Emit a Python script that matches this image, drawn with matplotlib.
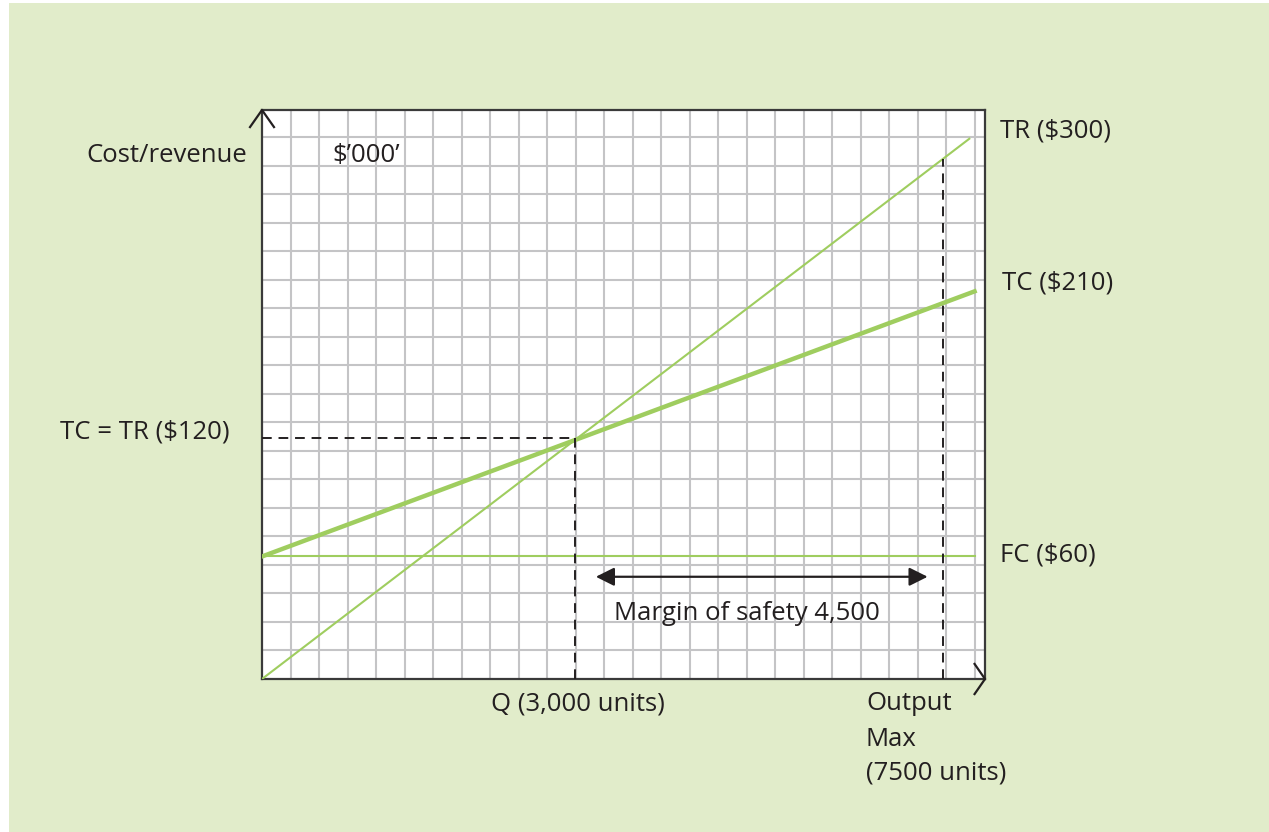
import numpy as np
import matplotlib
matplotlib.use("Agg")
import matplotlib.pyplot as plt
from matplotlib.patches import Rectangle

plt.rcParams['font.family'] = ['Open Sans', 'DejaVu Sans']

# values (x in units, y in $'000)
tr_x = [0, 6780]
tr_y = [0, 269]
tc_x = [0, 6830]
tc_y = [61, 193]
fc_x = [0, 6830]
fc_y = [61, 61]
q_units = 3000
q_cost = 120
max_units = 6530
max_cost = 259
margin_from, margin_to = 3200, 6380
margin_y = 50.9
x_max, y_max = 6930, 283.3
x_step, y_step = 273.2, 14.19

ink = "#231f20"
green = "#9fcd5f"
bg = "#e1ecca"
fs = 18.5

fig = plt.figure(figsize=(12.69, 8.32), dpi=100)
fig.patch.set_facecolor("white")
fig.patches.append(Rectangle((9/1269, 0), 1, 829/832, transform=fig.transFigure,
                             facecolor=bg, edgecolor="none", zorder=-10))

ax = fig.add_axes([262/1269, (832-679)/832, (985-262)/1269, (679-110)/832])
ax.set_facecolor("white")
ax.set_xlim(0, x_max)
ax.set_ylim(0, y_max)

# grid
for gx in np.arange(x_step, x_max, x_step):
    ax.axvline(gx, color="#c4c4c6", lw=1.5, zorder=1)
for gy in np.arange(y_step, y_max - 1, y_step):
    ax.axhline(gy, color="#c4c4c6", lw=1.5, zorder=1)

for s in ax.spines.values():
    s.set_color("#3a3a3a")
    s.set_linewidth(1.6)
ax.set_xticks([])
ax.set_yticks([])

# lines
ax.plot(fc_x, fc_y, color=green, lw=1.5, zorder=3)
ax.plot(tr_x, tr_y, color=green, lw=1.5, zorder=3)
ax.plot(tc_x, tc_y, color=green, lw=3.2, zorder=3)

# dashed guides
dash = (0, (5, 3.5))
ax.plot([0, q_units], [q_cost, q_cost], color=ink, lw=1.4, ls=dash, zorder=4)
ax.plot([q_units, q_units], [0, q_cost], color=ink, lw=1.4, ls=dash, zorder=4)
ax.plot([max_units, max_units], [0, max_cost], color=ink, lw=1.4, ls=dash, zorder=4)

# margin of safety arrow
ax.annotate("", xy=(margin_to, margin_y), xytext=(margin_from, margin_y),
            arrowprops=dict(arrowstyle="<|-|>", color=ink, lw=1.6,
                            mutation_scale=28, shrinkA=0, shrinkB=0), zorder=5)
ax.text(4650, 32.5, "Margin of safety 4,500", ha="center", va="center",
        fontsize=fs, color=ink)

# axis arrows
ax.plot([-115, 0, 115], [y_max - 8.5, y_max, y_max - 8.5], color=ink, lw=1.6,
        clip_on=False, zorder=6)
ax.plot([x_max - 100, x_max, x_max - 100], [-7.5, 0, 7.5], color=ink, lw=1.6,
        clip_on=False, zorder=6)

ax.text(997, 260.5, "$\u2019000\u2019", ha="center", va="center", fontsize=fs, color=ink)

# outside labels
fig.text(247/1269, 1 - 156/832, "Cost/revenue", ha="right", va="center", fontsize=fs, color=ink)
fig.text(230/1269, 1 - 432/832, "TC = TR ($120)", ha="right", va="center", fontsize=fs, color=ink)
fig.text(1000/1269, 1 - 131/832, "TR ($300)", ha="left", va="center", fontsize=fs, color=ink)
fig.text(1002/1269, 1 - 283/832, "TC ($210)", ha="left", va="center", fontsize=fs, color=ink)
fig.text(1000/1269, 1 - 555/832, "FC ($60)", ha="left", va="center", fontsize=fs, color=ink)
fig.text(578/1269, 1 - 704/832, "Q (3,000 units)", ha="center", va="center", fontsize=fs, color=ink)
fig.text(866/1269, 1 - 704/832, "Output", ha="left", va="center", fontsize=fs, color=ink)
fig.text(866/1269, 1 - 740/832, "Max", ha="left", va="center", fontsize=fs, color=ink)
fig.text(866/1269, 1 - 773/832, "(7500 units)", ha="left", va="center", fontsize=fs, color=ink)

fig.savefig("out.png", dpi=100, facecolor=fig.get_facecolor())
